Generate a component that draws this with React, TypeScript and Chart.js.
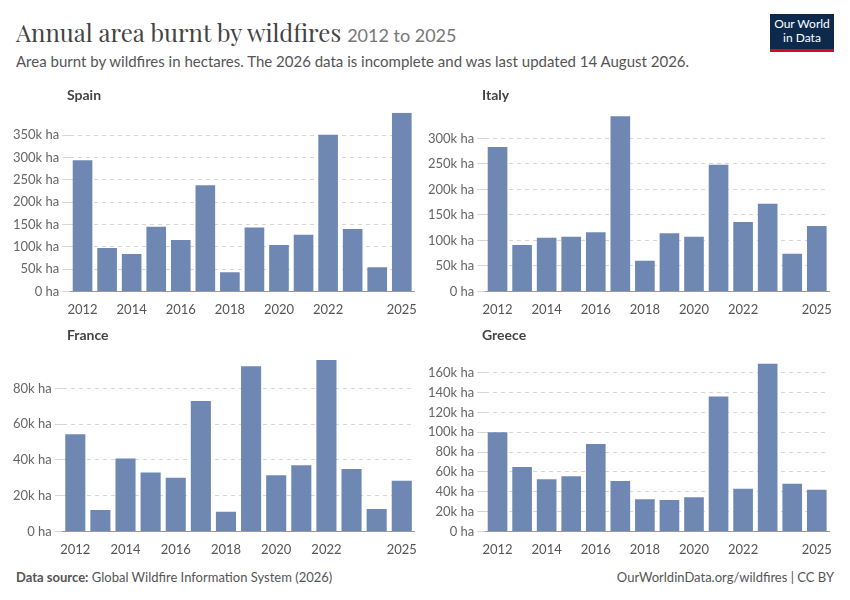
import React, { useEffect, useRef } from "react";
import { Chart, registerables } from "chart.js";
Chart.register(...registerables);

const years = ["2012","2013","2014","2015","2016","2017","2018","2019","2020","2021","2022","2023","2024","2025"];
const shownYears = ["2012","2014","2016","2018","2020","2022","2025"];
const spain = [294000,97000,84000,145000,115000,238000,43000,143000,104000,127000,351000,140000,54000,400000];
const italy = [283000,91000,105000,107000,116000,343000,60000,114000,107000,248000,136000,172000,74000,128000];
const france = [54400,12000,40800,33000,30000,73000,11000,92500,31500,37000,96000,35000,12500,28300];
const greece = [100000,65000,52600,55500,88000,50700,32500,31600,34400,136000,43000,169000,48000,42000];

const FONT = "Lato, 'Noto Sans', sans-serif";

function Panel({ title, data, max, step, left, top }: any) {
  const ref = useRef<HTMLCanvasElement>(null);
  useEffect(() => {
    const c = new Chart(ref.current!, {
      type: "bar",
      data: { labels: years, datasets: [{ data, backgroundColor: "rgba(103,130,175,0.95)", categoryPercentage: 1, barPercentage: 0.8 }] },
      options: {
        animation: false, responsive: false, maintainAspectRatio: false,
        plugins: { legend: { display: false }, tooltip: { enabled: false } },
        layout: { padding: { top: 0, right: 4 } },
        scales: {
          x: {
            grid: { display: false }, border: { color: "#999" },
            ticks: { autoSkip: false, maxRotation: 0, color: "#555", font: { family: FONT, size: 13 },
              callback: (v: any, i: number) => (shownYears.includes(years[i]) ? years[i] : "") },
          },
          y: {
            min: 0, max, border: { display: false, dash: [4, 4] },
            grid: { color: (ctx: any) => (ctx.tick && ctx.tick.value >= max ? "rgba(0,0,0,0)" : "#d6d6d6") },
            ticks: { stepSize: step, color: "#666", font: { family: FONT, size: 13 },
              callback: (v: any) => (v >= max ? "" : v === 0 ? "0 ha" : v / 1000 + "k ha") },
          },
        },
      } as any,
    });
    return () => c.destroy();
  }, []);
  return (
    <div style={{ position: "absolute", left, top }}>
      <div style={{ position: "absolute", left: 57, top: -16, fontFamily: FONT, fontWeight: 700, fontSize: 14, color: "#444" }}>{title}</div>
      <canvas ref={ref} width={410} height={219} style={{ width: 410, height: 219 }} />
    </div>
  );
}

export default function App() {
  return (
    <div style={{ position: "fixed", left: 0, top: 0, width: 850, height: 600, background: "#fff", fontFamily: FONT }}>
      <div style={{ position: "absolute", left: 16, top: 16, fontFamily: "'Playfair Display', 'DejaVu Serif', serif", fontSize: 24, color: "#444" }}>
        Annual area burnt by wildfires <span style={{ fontFamily: FONT, fontSize: 18, color: "#777" }}>2012 to 2025</span>
      </div>
      <div style={{ position: "absolute", left: 16, top: 52, fontSize: 15, color: "#555" }}>
        Area burnt by wildfires in hectares. The 2026 data is incomplete and was last updated 14 August 2026.
      </div>
      <div style={{ position: "absolute", left: 770, top: 14, width: 64, height: 38, background: "#0d2a4d", borderBottom: "3px solid #c8102e", color: "#fff", fontSize: 12, lineHeight: "14px", textAlign: "center", paddingTop: 3, boxSizing: "border-box" }}>
        Our World<br />in Data
      </div>
      <Panel title="Spain" data={spain} max={400000} step={50000} left={10} top={102} />
      <Panel title="Italy" data={italy} max={350000} step={50000} left={425} top={102} />
      <Panel title="France" data={france} max={100000} step={20000} left={10} top={342} />
      <Panel title="Greece" data={greece} max={180000} step={20000} left={425} top={342} />
      <div style={{ position: "absolute", left: 16, top: 569, fontSize: 13, color: "#555" }}>
        <b>Data source:</b> Global Wildfire Information System (2026)
      </div>
      <div style={{ position: "absolute", right: 16, top: 569, fontSize: 13, color: "#555" }}>
        OurWorldinData.org/wildfires | CC BY
      </div>
    </div>
  );
}
